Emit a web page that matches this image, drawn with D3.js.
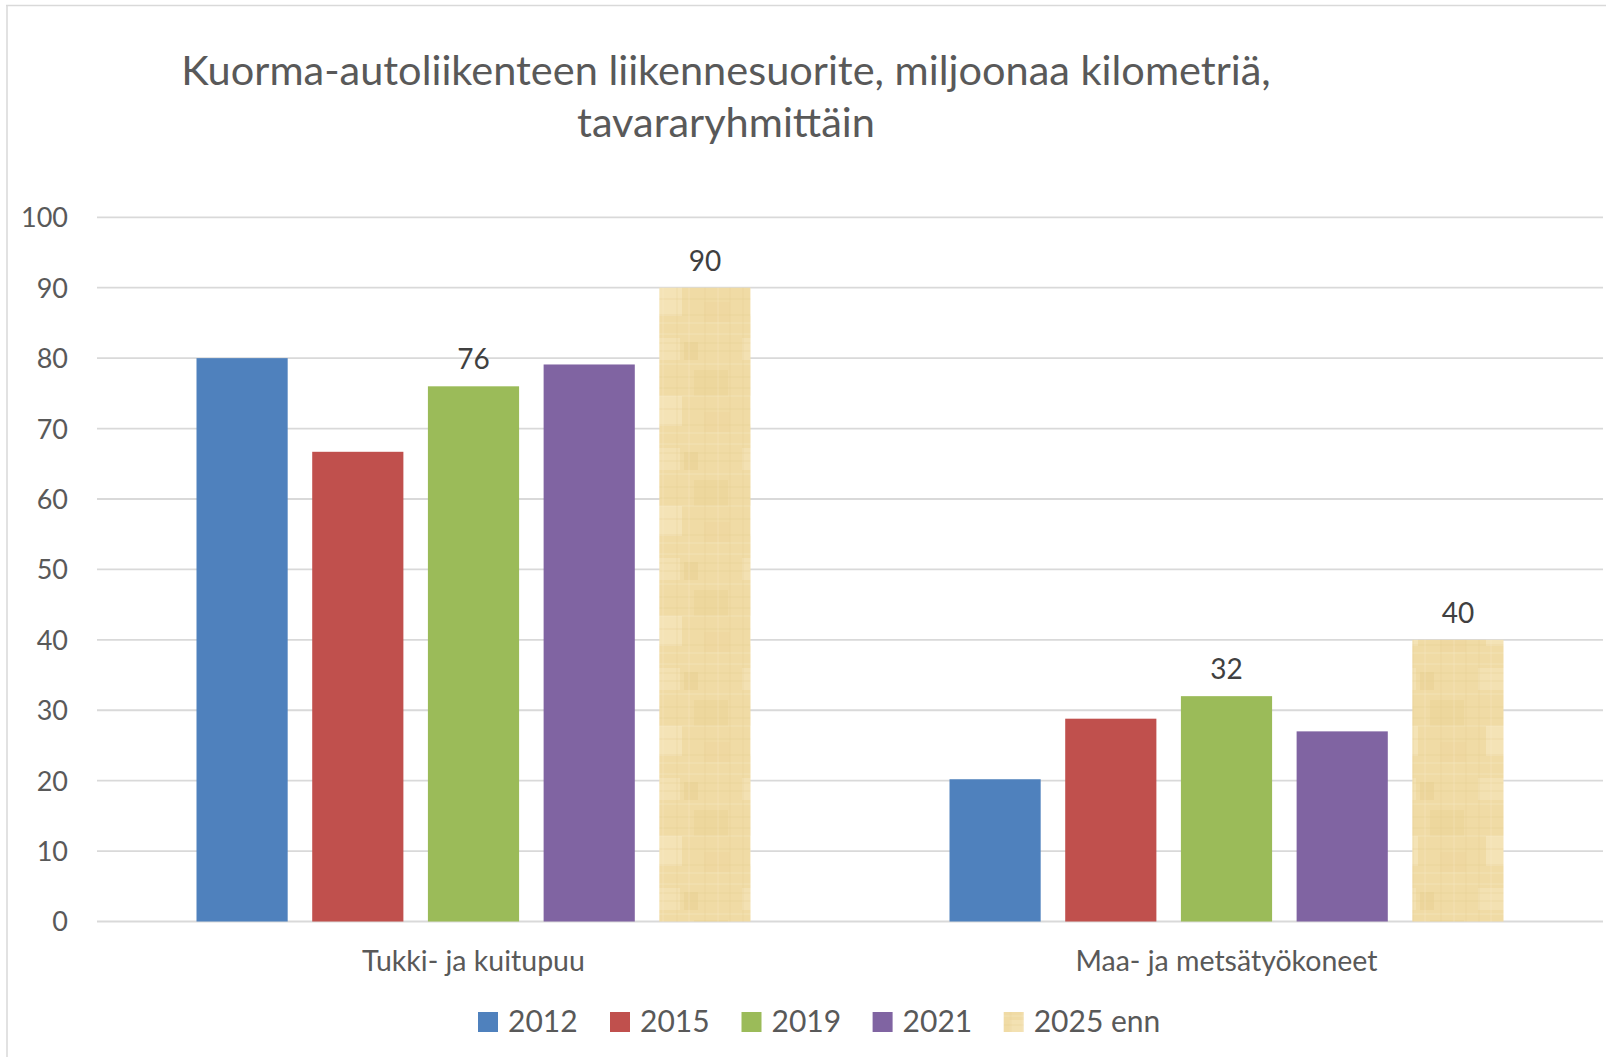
<!DOCTYPE html>
<html>
<head>
<meta charset="utf-8">
<script src="https://cdn.jsdelivr.net/npm/d3@7"></script>
<style>
  body { margin: 0; background: #fff; }
  svg text { font-family: Lato, "Open Sans", sans-serif; }
</style>
</head>
<body>
<div id="chart"></div>
<script>
const titleLines = ['Kuorma-autoliikenteen liikennesuorite, miljoonaa kilometriä,', 'tavararyhmittäin'];
const categories = ['Tukki- ja kuitupuu', 'Maa- ja metsätyökoneet'];
const seriesNames = ['2012', '2015', '2019', '2021', '2025 enn'];
const values2012 = [80, 20.2];
const values2015 = [66.7, 28.8];
const values2019 = [76, 32];
const values2021 = [79.1, 27];
const values2025 = [90, 40];
const labelledSeries = ['2019', '2025 enn'];
const yTicks = [0, 10, 20, 30, 40, 50, 60, 70, 80, 90, 100];

const seriesValues = [values2012, values2015, values2019, values2021, values2025];
const colors = ['#4F81BD', '#C0504D', '#9BBB59', '#8064A2', 'url(#parchment)'];

const width = 1606, height = 1057;
const plot = {left: 97, right: 1603, top: 217.3, bottom: 921.5};

const svg = d3.select('#chart').append('svg')
    .attr('width', width).attr('height', height);

// parchment texture for the forecast bars
const defs = svg.append('defs');
const pat = defs.append('pattern').attr('id', 'parchment')
    .attr('patternUnits', 'userSpaceOnUse')
    .attr('width', 92).attr('height', 110);
pat.append('rect').attr('width', 92).attr('height', 110).attr('fill', '#F0DBA5');
const blotches = [[6, 8, 30, 22, '#F5E4BB'], [50, 40, 34, 26, '#EBD398'], [14, 66, 24, 30, '#F6E7C2'],
  [60, 82, 26, 20, '#EED69E'], [40, 12, 14, 18, '#EAD194']];
blotches.forEach(function(b) {
  pat.append('rect').attr('x', b[0]).attr('y', b[1]).attr('width', b[2]).attr('height', b[3])
    .attr('fill', b[4]).attr('opacity', 0.6);
});
[4, 13, 21, 34, 47, 58, 66, 79, 95, 103].forEach(function(y, i) {
  pat.append('line').attr('x1', 0).attr('x2', 92).attr('y1', y).attr('y2', y)
    .attr('stroke', i % 3 ? '#E6CE92' : '#F8EBCB').attr('stroke-width', 1).attr('opacity', 0.45);
});
[7, 19, 33, 45, 61, 74, 86].forEach(function(x, i) {
  pat.append('line').attr('y1', 0).attr('y2', 110).attr('x1', x).attr('x2', x)
    .attr('stroke', i % 2 ? '#F8EBCB' : '#E4CB8C').attr('stroke-width', 1).attr('opacity', 0.35);
});

// chart border (top and left edges visible)
svg.append('line').attr('x1', 6).attr('x2', 1606).attr('y1', 5.5).attr('y2', 5.5)
    .attr('stroke', '#D9D9D9').attr('stroke-width', 1.5);
svg.append('line').attr('x1', 7).attr('x2', 7).attr('y1', 5).attr('y2', 1057)
    .attr('stroke', '#D9D9D9').attr('stroke-width', 1.5);

// title
svg.append('text')
    .attr('x', 726).attr('y', 85)
    .attr('text-anchor', 'middle')
    .attr('fill', '#595959')
    .style('font-size', '41.5px')
    .selectAll('tspan').data(titleLines).join('tspan')
    .attr('x', 726)
    .attr('dy', function(d, i) { return i === 0 ? 0 : 52; })
    .text(function(d) { return d; });

const y = d3.scaleLinear().domain([0, 100]).range([plot.bottom, plot.top]);
const x0 = d3.scaleBand().domain(categories).range([plot.left, plot.right]).padding(0);
const x1 = d3.scaleBand().domain(seriesNames).range([0, x0.bandwidth()])
    .paddingInner(0.212).paddingOuter(0.86);

// gridlines
svg.append('g').selectAll('line').data(yTicks).join('line')
    .attr('x1', plot.left).attr('x2', plot.right)
    .attr('y1', function(d) { return y(d); }).attr('y2', function(d) { return y(d); })
    .attr('stroke', '#D9D9D9').attr('stroke-width', 1.8);

// y axis labels
const yAxis = d3.axisLeft(y).tickValues(yTicks).tickSize(0).tickPadding(0);
const yG = svg.append('g').attr('transform', 'translate(68,0)').call(yAxis);
yG.select('.domain').remove();
yG.selectAll('text').attr('fill', '#595959').style('font-size', '27px')
    .style('font-family', 'Lato, sans-serif').attr('dy', '0.35em');

// bars
const groups = svg.append('g').selectAll('g').data(seriesNames).join('g');
groups.selectAll('rect')
    .data(function(s, si) {
      return categories.map(function(c, ci) { return {series: s, si: si, cat: c, value: seriesValues[si][ci]}; });
    })
    .join('rect')
    .attr('x', function(d) { return x0(d.cat) + x1(d.series); })
    .attr('y', function(d) { return y(d.value); })
    .attr('width', x1.bandwidth())
    .attr('height', function(d) { return y(0) - y(d.value); })
    .attr('fill', function(d) { return colors[d.si]; });

// data labels
groups.filter(function(s) { return labelledSeries.indexOf(s) >= 0; })
    .selectAll('text')
    .data(function(s, i) {
      const si = seriesNames.indexOf(s);
      return categories.map(function(c, ci) { return {series: s, cat: c, value: seriesValues[si][ci]}; });
    })
    .join('text')
    .attr('x', function(d) { return x0(d.cat) + x1(d.series) + x1.bandwidth() / 2; })
    .attr('y', function(d) { return y(d.value) - 17; })
    .attr('text-anchor', 'middle')
    .attr('fill', '#404040')
    .style('font-size', '28px')
    .text(function(d) { return d3.format('d')(d.value); });

// category labels
svg.append('g').selectAll('text').data(categories).join('text')
    .attr('x', function(d) { return x0(d) + x0.bandwidth() / 2; })
    .attr('y', 971)
    .attr('text-anchor', 'middle')
    .attr('fill', '#595959')
    .style('font-size', '28.5px')
    .text(function(d) { return d; });

// legend
const legendX = [478, 610, 741.5, 872.6, 1003.7];
const legend = svg.append('g').selectAll('g').data(seriesNames).join('g')
    .attr('transform', function(d, i) { return 'translate(' + legendX[i] + ',1012)'; });
legend.append('rect').attr('width', 20).attr('height', 20)
    .attr('fill', function(d, i) { return colors[i]; });
legend.append('text').attr('x', 30).attr('y', 20)
    .attr('fill', '#595959')
    .style('font-size', '30px')
    .text(function(d) { return d; });
</script>
</body>
</html>
